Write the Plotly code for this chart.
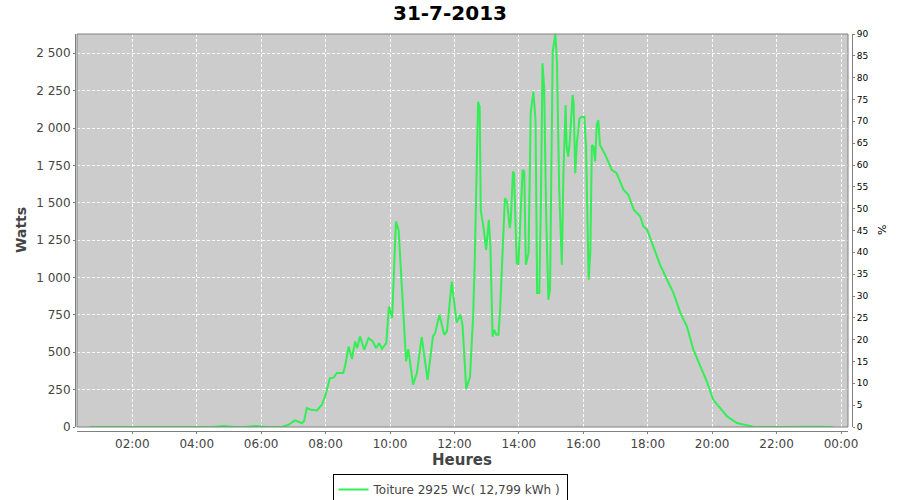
import plotly.graph_objects as go

DAY = "2013-07-31"
times = [
    "00:40", "01:00", "01:30", "02:00", "02:30", "03:00", "03:30", "04:00", "04:30", "04:50",
    "05:10", "05:30", "05:50", "06:10", "06:30", "06:40", "06:51", "07:03", "07:16", "07:20",
    "07:25", "07:33", "07:44", "07:53", "08:00", "08:08", "08:15", "08:21", "08:33", "08:37",
    "08:43", "08:49", "08:55", "08:59", "09:04", "09:12", "09:20", "09:28", "09:34", "09:40",
    "09:45", "09:53", "09:58", "10:04", "10:11", "10:16", "10:22", "10:30", "10:34", "10:43",
    "10:50", "10:59", "11:04", "11:10", "11:20", "11:24", "11:32", "11:41", "11:46", "11:55",
    "12:04", "12:11", "12:15", "12:22", "12:29", "12:35", "12:38", "12:44", "12:47", "12:49",
    "12:54", "12:59", "13:04", "13:07", "13:11", "13:14", "13:18", "13:22", "13:25", "13:30",
    "13:34", "13:38", "13:43", "13:45", "13:49", "13:51", "13:56", "13:59", "14:04", "14:07",
    "14:10", "14:13", "14:18", "14:22", "14:27", "14:31", "14:34", "14:38", "14:41", "14:44",
    "14:47", "14:51", "14:55", "14:58", "15:03", "15:08", "15:11", "15:15", "15:20", "15:23",
    "15:27", "15:29", "15:32", "15:35", "15:40", "15:42", "15:45", "15:48", "15:53", "15:58",
    "16:02", "16:05", "16:10", "16:13", "16:16", "16:19", "16:22", "16:25", "16:28", "16:31",
    "16:41", "16:53", "17:02", "17:15", "17:24", "17:34", "17:46", "17:52", "17:59", "18:11",
    "18:23", "18:36", "18:48", "19:01", "19:13", "19:25", "19:38", "19:50", "20:02", "20:15",
    "20:28", "20:46", "21:05", "21:18", "21:36", "22:00", "22:30", "23:00", "23:30", "23:45",
]
watts = [
    0, 0, 2, 0, 1, 0, 2, 0, 0, 6,
    0, 0, 7, 0, 0, 2, 15, 44, 25, 40,
    127, 115, 111, 149, 216, 327, 330, 361, 361, 420,
    539, 455, 572, 528, 606, 517, 595, 572, 528, 561,
    523, 561, 806, 729, 1374, 1319, 940, 439, 521, 283,
    361, 602, 472, 316, 606, 628, 751, 617, 639, 973,
    699, 751, 684, 255, 338, 762, 1140, 2176, 2143, 1452,
    1341, 1185, 1386, 1207, 606, 650, 617, 617, 784, 1185,
    1531, 1508, 1330, 1386, 1709, 1698, 1096, 1085, 1564, 1720,
    1709, 1085, 1163, 2099, 2243, 2054, 896, 896, 1497, 2433,
    2277, 1386, 851, 918, 2511, 2629, 2433, 1608, 1085, 1698,
    2154, 1876, 1809, 1920, 2221, 2166, 1698, 1898, 2065, 2076,
    2076, 1876, 985, 1163, 1887, 1876, 1776, 2021, 2054, 1887,
    1820, 1720, 1698, 1586, 1553, 1453, 1408, 1341, 1319, 1197,
    1085, 985, 896, 762, 672, 517, 405, 305, 182, 127,
    71, 27, 9, 0, 0, 2, 0, 1, 0, 0,
]
series_name = "Toiture 2925 Wc( 12,799 kWh )"
title_text = "31-7-2013"

x_vals = [f"{DAY} {t}" for t in times]

fig = go.Figure()
fig.add_trace(go.Scatter(
    x=x_vals, y=watts, mode="lines", name=series_name,
    line=dict(color="#33ee55", width=2),
))
# invisible trace on secondary axis so it is displayed
fig.add_trace(go.Scatter(
    x=[x_vals[0]], y=[0], yaxis="y2", mode="lines", showlegend=False,
    line=dict(color="rgba(0,0,0,0)"), hoverinfo="skip",
))

FONT = "DejaVu Sans"
FW, FH = 900, 500
# layout in window pixel coordinates
AX_L, AX_R, AX_T, AX_B = 75, 852, 34, 431
L, T = AX_L, AX_T
R, B = FW - AX_R, FH - AX_B
PW = AX_R - AX_L
PH = AX_B - AX_T

def px_x(x):
    return (x - AX_L) / PW

def px_y(y):
    return (AX_B - y) / PH

def cx(x):
    return x / FW

def cy(y):
    return 1 - y / FH

fig.update_layout(
    width=FW, height=FH,
    margin=dict(l=L, r=R, t=T, b=B, pad=0, autoexpand=False),
    paper_bgcolor="white",
    plot_bgcolor="#cccccc",
    separators=", ",
    font=dict(family=FONT, size=12, color="#444444"),
    title=dict(text=f"<b>{title_text}</b>", x=cx(450), xref="container", xanchor="center",
               y=cy(13), yref="container", yanchor="middle",
               font=dict(family=FONT, size=20, color="#000000")),
    showlegend=True,
    legend=dict(orientation="h", xref="container", yref="container",
                x=cx(450), xanchor="center", y=cy(474), yanchor="top",
                bordercolor="#000000", borderwidth=1, bgcolor="white",
                font=dict(family=FONT, size=12, color="#444444"), itemwidth=30),
    xaxis=dict(
        domain=[px_x(77), px_x(848)],
        anchor="free", position=0, automargin=False,
        type="date",
        range=[f"{DAY} 00:17", "2013-08-01 00:13"],
        tickformat="%H:%M", dtick=7200000, tick0=f"{DAY} 00:00",
        showgrid=True, gridcolor="#ffffff", gridwidth=1, griddash="3px,2px",
        showline=True, linecolor="#808080", linewidth=1,
        ticks="outside", ticklen=2, tickcolor="#808080",
        tickfont=dict(family=FONT, size=12, color="#444444"),
        zeroline=False,
    ),
    yaxis=dict(
        domain=[px_y(427), 1],
        anchor="free", position=0, automargin=False,
        range=[0, 2629], dtick=250, tick0=0,
        separatethousands=True, tickformat=",d",
        showgrid=True, gridcolor="#ffffff", gridwidth=1, griddash="3px,2px",
        showline=True, linecolor="#808080", linewidth=1,
        ticks="outside", ticklen=2, tickcolor="#808080",
        tickfont=dict(family=FONT, size=12, color="#444444"),
        zeroline=False,
    ),
    yaxis2=dict(
        domain=[px_y(427), 1],
        overlaying="y", side="right", anchor="free", position=1, automargin=False,
        range=[0, 90], dtick=5, tick0=0,
        showgrid=False,
        showline=True, linecolor="#808080", linewidth=1,
        ticks="outside", ticklen=2, tickcolor="#808080",
        tickfont=dict(family=FONT, size=9, color="#000000"),
        zeroline=False,
    ),
    shapes=[dict(type="rect", xref="x domain", yref="y domain", x0=0, x1=1, y0=0, y1=1,
                 line=dict(color="#808080", width=1), layer="above")],
    annotations=[
        dict(text="<b>Watts</b>", xref="paper", yref="paper", x=px_x(21), y=px_y(230),
             xanchor="center", yanchor="middle", textangle=-90, showarrow=False,
             font=dict(family=FONT, size=14, color="#444444")),
        dict(text="<b>Heures</b>", xref="paper", yref="paper", x=px_x(462), y=px_y(460),
             xanchor="center", yanchor="middle", showarrow=False,
             font=dict(family=FONT, size=15, color="#444444")),
        dict(text="%", xref="paper", yref="paper", x=px_x(882), y=px_y(230),
             xanchor="center", yanchor="middle", textangle=-90, showarrow=False,
             font=dict(family=FONT, size=11, color="#000000")),
    ],
)

fig.write_html("out.html",
               config={"displayModeBar": False},
               post_script="document.body.style.margin='0px';document.body.style.overflow='hidden';")
